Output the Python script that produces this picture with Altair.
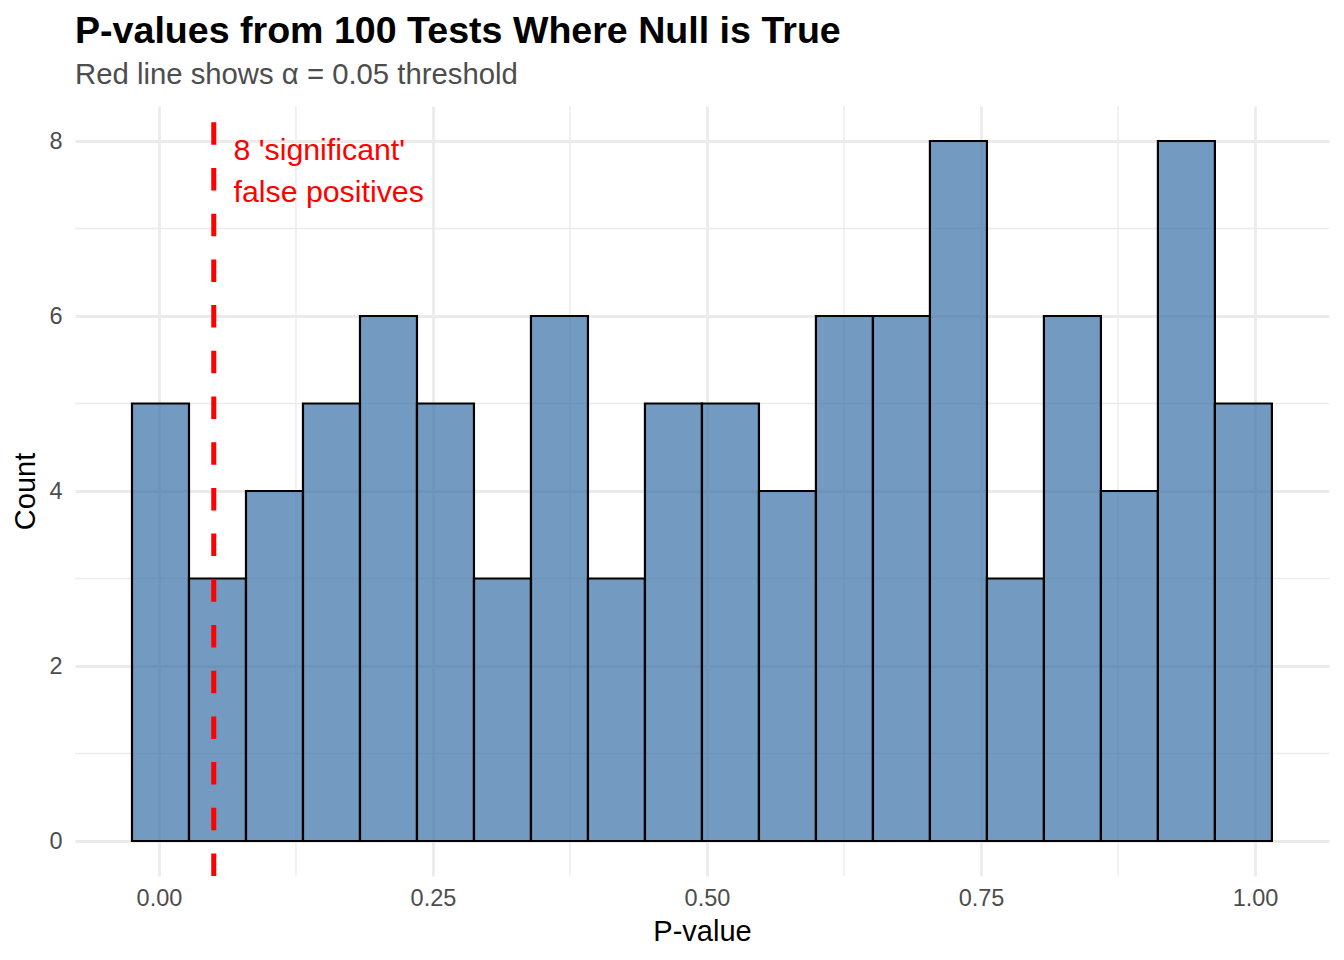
import altair as alt
import pandas as pd

# ---- data ----
counts = [5, 3, 4, 5, 6, 5, 3, 6, 3, 5, 5, 4, 6, 6, 8, 3, 6, 4, 8, 5]
bin_start = -0.0246
bin_width = 0.052
x_ticks = [0.0, 0.25, 0.5, 0.75, 1.0]
x_minor = [0.125, 0.375, 0.625, 0.875]
y_ticks = [0, 2, 4, 6, 8]
y_minor = [1, 3, 5, 7]
alpha_line = [0.05]
note_x = [0.068]
note_y = [7.78]
note_text = ["8 'significant'\nfalse positives"]

FONT = "Liberation Sans"
x_dom = [-0.0766, 1.0675]
y_dom = [-0.4, 8.4]

bars_df = pd.DataFrame({
    "x0": [bin_start + i * bin_width for i in range(len(counts))],
    "x1": [bin_start + (i + 1) * bin_width for i in range(len(counts))],
    "count": counts,
    "zero": [0] * len(counts),
})
vminor_df = pd.DataFrame({"x": x_minor})
hminor_df = pd.DataFrame({"y": y_minor})
line_df = pd.DataFrame({"x": alpha_line, "lo": [y_dom[0]], "hi": [y_dom[1]]})
note_df = pd.DataFrame({"x": note_x, "y": note_y, "t": note_text})

xscale = alt.Scale(domain=x_dom, nice=False, zero=False)
yscale = alt.Scale(domain=y_dom, nice=False, zero=False)

x_axis = alt.Axis(values=x_ticks, format=".2f", title="P-value", grid=True,
                  gridColor="#EBEBEB", gridWidth=2.8, ticks=False, domain=False,
                  labelFont=FONT, labelFontSize=23.5, labelColor="#4D4D4D",
                  labelPadding=10, titleFont=FONT, titleFontSize=29,
                  titleFontWeight="normal", titleColor="#000000", titlePadding=8)
y_axis = alt.Axis(values=y_ticks, format="d", title="Count", grid=True,
                  gridColor="#EBEBEB", gridWidth=2.8, ticks=False, domain=False,
                  labelFont=FONT, labelFontSize=23.5, labelColor="#4D4D4D",
                  labelPadding=13, titleFont=FONT, titleFontSize=29,
                  titleFontWeight="normal", titleColor="#000000", titlePadding=8)

vminor = alt.Chart(vminor_df).mark_rule(color="#EBEBEB", strokeWidth=1.4).encode(
    x=alt.X("x:Q", scale=xscale, axis=x_axis)
)
hminor = alt.Chart(hminor_df).mark_rule(color="#EBEBEB", strokeWidth=1.4).encode(
    y=alt.Y("y:Q", scale=yscale, axis=y_axis)
)
bars = alt.Chart(bars_df).mark_rect(
    fill="#386FA5", fillOpacity=0.7, stroke="#000000", strokeWidth=2.2
).encode(
    x=alt.X("x0:Q", scale=xscale, axis=x_axis),
    x2="x1:Q",
    y=alt.Y("count:Q", scale=yscale, axis=y_axis),
    y2="zero:Q",
)
vline = alt.Chart(line_df).mark_rule(
    color="#FF0000", strokeWidth=5, strokeDash=[22.5, 23.2]
).encode(
    x=alt.X("x:Q", scale=xscale),
    y=alt.Y("lo:Q", scale=yscale),
    y2="hi:Q",
)
note = alt.Chart(note_df).mark_text(
    align="left", baseline="alphabetic", font=FONT, fontSize=30.3,
    color="#FF0000", lineBreak="\n", lineHeight=42
).encode(
    x=alt.X("x:Q", scale=xscale),
    y=alt.Y("y:Q", scale=yscale),
    text="t:N",
)

chart = alt.layer(vminor, hminor, bars, vline, note).properties(
    width=1254,
    height=770,
    padding={"left": 67, "top": 98, "right": 7, "bottom": 76},
    autosize=alt.AutoSizeParams(type="none"),
    title=alt.TitleParams(
        text="P-values from 100 Tests Where Null is True",
        subtitle="Red line shows α = 0.05 threshold",
        anchor="start", frame="group", font=FONT, fontSize=37.6,
        fontWeight="bold", color="#000000",
        subtitleFont=FONT, subtitleFontSize=29.3, subtitleColor="#4D4D4D",
        subtitlePadding=11, offset=13,
    ),
).configure_view(stroke=None)

chart.save("out.html", embed_options={"renderer": "svg", "actions": False})
